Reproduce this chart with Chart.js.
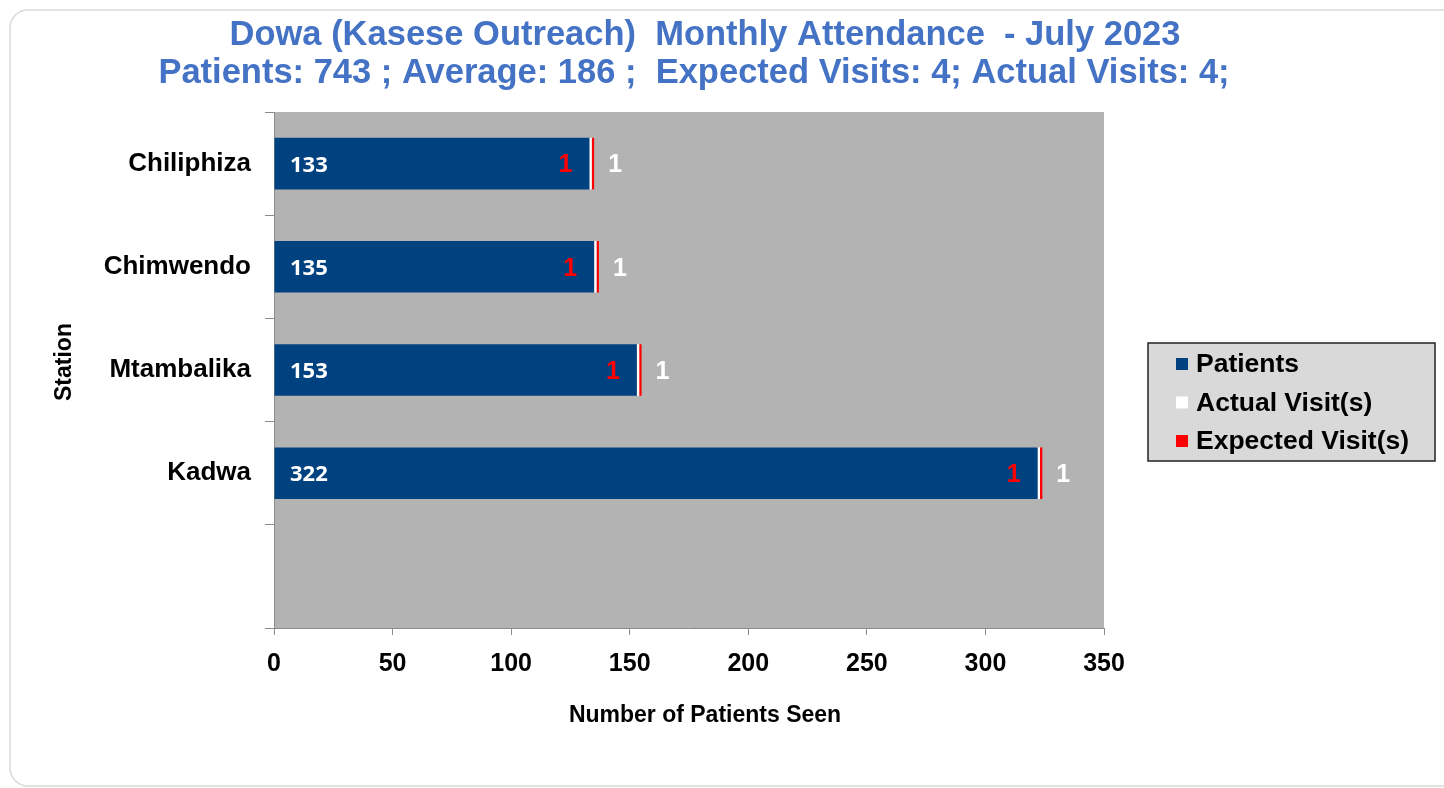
<!DOCTYPE html>
<html lang="en">
<head>
<meta charset="UTF-8">
<title>Dowa (Kasese Outreach) Monthly Attendance</title>
<script src="https://cdn.jsdelivr.net/npm/chart.js"></script>
<style>
  html, body { margin: 0; padding: 0; background: #fff; }
  #wrap { width: 1444px; height: 788px; position: relative; }
</style>
</head>
<body>
<div id="wrap"><canvas id="chart" width="1444" height="788"></canvas></div>
<script>
// data
const stations = ['Chiliphiza', 'Chimwendo', 'Mtambalika', 'Kadwa', ''];
const patients = [133, 135, 153, 322, null];
const actualVisits = [1, 1, 1, 1, null];
const expectedVisits = [1, 1, 1, 1, null];
const xTicks = [0, 50, 100, 150, 200, 250, 300, 350];
const titleLines = [
  'Dowa (Kasese Outreach)  Monthly Attendance  - July 2023',
  'Patients: 743 ; Average: 186 ;  Expected Visits: 4; Actual Visits: 4;'
];

const BLUE = '#004280';
const AXIS = '#8c8c8c';
const FONT = '"Liberation Sans", Arial, sans-serif';

const decor = {
  id: 'decor',
  beforeDraw(chart) {
    const ctx = chart.ctx, a = chart.chartArea;
    ctx.save();
    ctx.fillStyle = '#fff';
    ctx.fillRect(0, 0, chart.width, chart.height);
    // outer frame
    ctx.strokeStyle = '#d9d9d9';
    ctx.lineWidth = 1.5;
    ctx.beginPath();
    ctx.roundRect(10, 10, 1450, 776, 18);
    ctx.stroke();
    // plot background
    ctx.fillStyle = '#b3b3b3';
    ctx.fillRect(a.left, a.top, a.right - a.left, a.bottom - a.top);
    ctx.restore();
  },
  afterDraw(chart) {
    const ctx = chart.ctx;
    const xs = chart.scales.x, ys = chart.scales.y;
    ctx.save();
    // title
    ctx.fillStyle = '#4472c4';
    ctx.font = 'bold 34.5px ' + FONT;
    ctx.textAlign = 'center';
    ctx.textBaseline = 'middle';
    ctx.fillText(titleLines[0], 705, 35);
    ctx.fillText(titleLines[1], 694, 73);
    // axis titles
    ctx.fillStyle = '#000';
    ctx.font = 'bold 23px ' + FONT;
    ctx.fillText('Number of Patients Seen', 705, 716);
    ctx.save();
    ctx.translate(65, 362);
    ctx.rotate(-Math.PI / 2);
    ctx.fillText('Station', 0, 0);
    ctx.restore();
    // data labels
    patients.forEach((v, i) => {
      if (v == null) return;
      const y = ys.getPixelForValue(i) + 2;
      const x0 = xs.getPixelForValue(0);
      const xb = xs.getPixelForValue(v);
      const xe = xs.getPixelForValue(v + actualVisits[i] + expectedVisits[i]);
      ctx.textBaseline = 'middle';
      ctx.fillStyle = '#fff';
      ctx.font = 'bold 22px "Open Sans", sans-serif';
      ctx.textAlign = 'left';
      ctx.fillText(String(v), x0 + 16, y);
      ctx.font = 'bold 25px ' + FONT;
      ctx.fillStyle = '#ff0000';
      ctx.textAlign = 'right';
      ctx.fillText(String(expectedVisits[i]), xb - 17, y);
      ctx.fillStyle = '#fff';
      ctx.textAlign = 'left';
      ctx.fillText(String(actualVisits[i]), xe + 14, y);
    });
    // legend
    const lx = 1148, ly = 343, lw = 287, lh = 118;
    ctx.fillStyle = '#d9d9d9';
    ctx.fillRect(lx, ly, lw, lh);
    ctx.strokeStyle = '#222';
    ctx.lineWidth = 1.5;
    ctx.strokeRect(lx, ly, lw, lh);
    ctx.font = 'bold 26.5px ' + FONT;
    ctx.textAlign = 'left';
    ctx.textBaseline = 'middle';
    chart.data.datasets.forEach((ds, k) => {
      const cy = 364 + k * 38.5;
      ctx.fillStyle = ds.backgroundColor;
      ctx.fillRect(1176, cy - 6, 12, 12);
      ctx.fillStyle = '#000';
      ctx.fillText(ds.label, 1196, cy + 1);
    });
    ctx.restore();
  }
};

new Chart(document.getElementById('chart'), {
  type: 'bar',
  data: {
    labels: stations,
    datasets: [
      { label: 'Patients', data: patients, backgroundColor: BLUE },
      { label: 'Actual Visit(s)', data: actualVisits, backgroundColor: '#ffffff' },
      { label: 'Expected Visit(s)', data: expectedVisits, backgroundColor: '#ff0000' }
    ]
  },
  options: {
    indexAxis: 'y',
    responsive: false,
    animation: false,
    datasets: { bar: { barPercentage: 1, categoryPercentage: 0.5 } },
    layout: { padding: { left: 40, right: 340, top: 112, bottom: 0 } },
    plugins: { legend: { display: false }, title: { display: false }, tooltip: { enabled: false } },
    scales: {
      x: {
        stacked: true,
        min: 0, max: 350,
        afterBuildTicks(s) { s.ticks = xTicks.map(v => ({ value: v })); },
        afterFit(s) { s.height = 160; },
        border: { color: AXIS, width: 1 },
        grid: { drawOnChartArea: false, drawTicks: true, tickLength: 7, color: AXIS },
        ticks: { color: '#000', padding: 14, font: { family: FONT, size: 25, weight: 'bold' } }
      },
      y: {
        stacked: true,
        afterFit(s) { s.width = 234; },
        border: { color: AXIS, width: 1 },
        grid: { drawOnChartArea: false, drawTicks: true, tickLength: 9, color: AXIS, offset: true },
        ticks: { color: '#000', padding: 14, font: { family: FONT, size: 26, weight: 'bold' } }
      }
    }
  },
  plugins: [decor]
});
</script>
</body>
</html>
